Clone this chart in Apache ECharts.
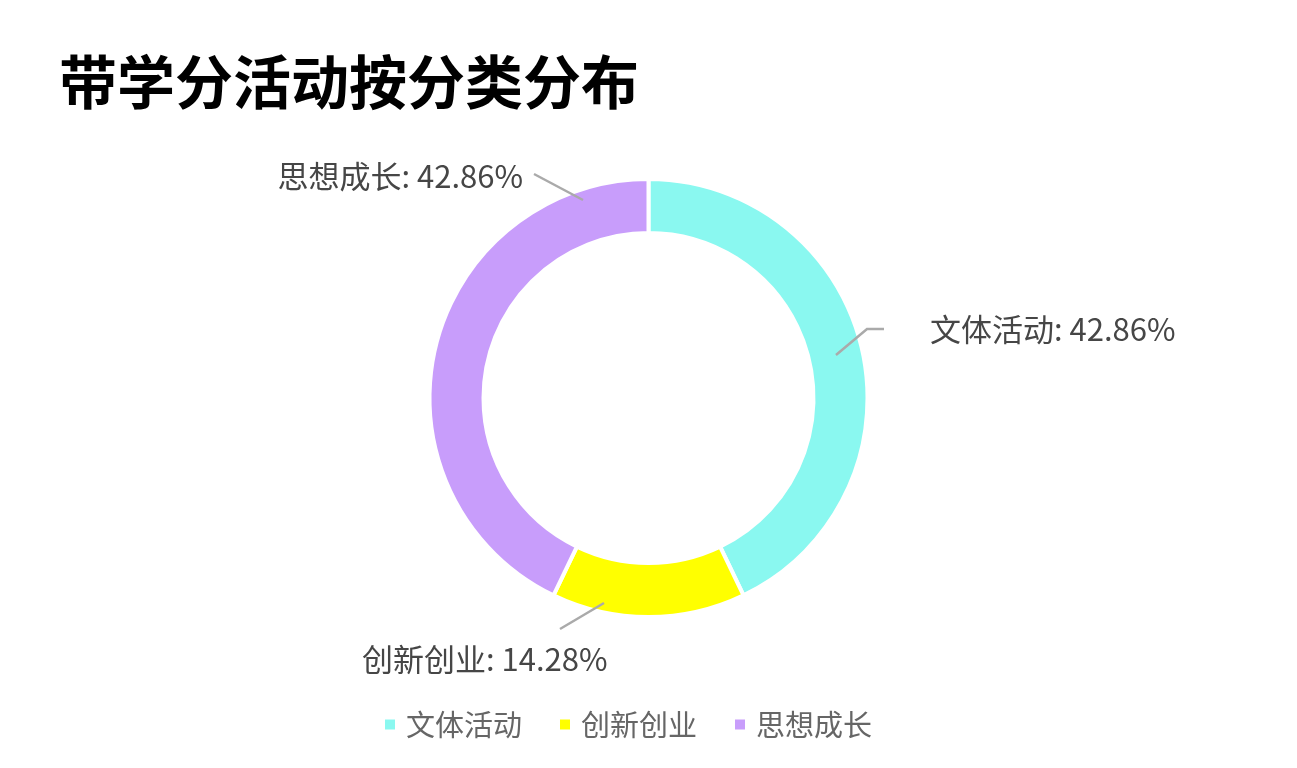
<!DOCTYPE html>
<html>
<head>
<meta charset="utf-8">
<script src="https://cdn.jsdelivr.net/npm/echarts@6/dist/echarts.min.js"></script>
<style>
html,body{margin:0;padding:0;background:#fff;}
#main{width:1297px;height:768px;}
</style>
</head>
<body>
<div id="main"></div>
<script>
const titleText = '带学分活动按分类分布';
const categories = ['文体活动', '创新创业', '思想成长'];
const counts = [3, 1, 3];
const colors = ['#8AF8F0', '#FFFF00', '#C89DFB'];

// label placement (text anchor + guide line), layout only
const labelPlacement = {
  '文体活动': { x: 930, y: 329, align: 'left', line: [[836, 355], [867, 329], [884, 329]] },
  '思想成长': { x: 523, y: 176, align: 'right', line: [[583, 200], [534, 174]] },
  '创新创业': { x: 362, y: 659, align: 'left', line: [[604, 603], [560, 629]] }
};

const chart = echarts.init(document.getElementById('main'));
const font = '"Noto Sans CJK SC", "Noto Sans", sans-serif';
const pieData = categories.map((c, i) => ({ name: c, value: counts[i] }));
const pieBase = {
  type: 'pie',
  center: ['50%', 398],
  radius: [165, 219],
  startAngle: 90,
  clockwise: true,
  percentPrecision: 2
};
chart.setOption({
  animation: false,
  color: colors,
  title: {
    text: titleText,
    left: 54,
    top: 48,
    textStyle: { fontSize: 58, fontWeight: 'bold', color: '#000', fontFamily: font }
  },
  legend: {
    data: categories,
    bottom: 24,
    left: 378,
    icon: 'rect',
    itemWidth: 12,
    itemHeight: 12,
    itemGap: 36,
    textStyle: { fontSize: 29, color: '#666', fontFamily: font, padding: [0, 0, 0, 5] }
  },
  series: [
    Object.assign({}, pieBase, {
      z: 2,
      itemStyle: { borderColor: '#fff', borderWidth: 4 },
      label: { show: false },
      labelLine: { show: false },
      data: pieData
    }),
    Object.assign({}, pieBase, {
      z: 5,
      silent: true,
      legendHoverLink: false,
      itemStyle: { color: 'rgba(0,0,0,0)', borderWidth: 0 },
      label: {
        formatter: '{b}: {d}%',
        fontSize: 31,
        color: '#464646',
        fontFamily: font
      },
      labelLine: { showAbove: true, lineStyle: { color: '#AAAAAA', width: 2.5 } },
      labelLayout: function (p) {
        const pl = labelPlacement[categories[p.dataIndex]];
        return {
          x: pl.x,
          y: pl.y,
          align: pl.align,
          verticalAlign: 'middle',
          labelLinePoints: pl.line
        };
      },
      data: pieData
    })
  ]
});
</script>
</body>
</html>
